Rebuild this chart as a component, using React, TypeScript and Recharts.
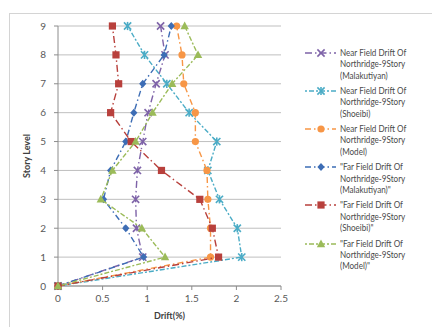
import React from 'react';
import { ScatterChart, Scatter, XAxis, YAxis, CartesianGrid, Label } from 'recharts';

const storyLevels = [0, 1, 2, 3, 4, 5, 6, 7, 8, 9];
const nearMalakutiyan = [0, 0.95, 0.88, 0.87, 0.89, 0.95, 1.01, 1.1, 1.2, 1.15];
const nearShoeibi = [0, 2.06, 2.01, 1.81, 1.68, 1.78, 1.47, 1.22, 0.97, 0.78];
const nearModel = [0, 1.71, 1.71, 1.68, 1.67, 1.54, 1.54, 1.41, 1.39, 1.33];
const farMalakutiyan = [0, 0.96, 0.76, 0.51, 0.59, 0.76, 0.85, 0.95, 1.19, 1.27];
const farShoeibi = [0, 1.8, 1.73, 1.59, 1.16, 0.82, 0.59, 0.68, 0.65, 0.61];
const farModel = [0, 1.2, 0.94, 0.48, 0.61, 0.87, 1.06, 1.28, 1.57, 1.42];
const xTicks = [0, 0.5, 1, 1.5, 2, 2.5];
const yTicks = [0, 1, 2, 3, 4, 5, 6, 7, 8, 9];

const seriesNames = [
  ['Near Field Drift Of', 'Northridge-9Story', '(Malakutiyan)'],
  ['Near Field Drift Of', 'Northridge-9Story', '(Shoeibi)'],
  ['Near Field Drift Of', 'Northridge-9Story', '(Model)'],
  ['"Far Field Drift Of', 'Northridge-9Story', '(Malakutiyan)"'],
  ['"Far Field Drift Of', 'Northridge-9Story', '(Shoeibi)"'],
  ['"Far Field Drift Of', 'Northridge-9Story', '(Model)"'],
];

type MarkerKind = 'x' | 'star' | 'circle' | 'diamond' | 'square' | 'triangle';

const seriesDefs: { values: number[]; color: string; marker: MarkerKind; dash: string }[] = [
  { values: nearMalakutiyan, color: '#7E63A8', marker: 'x', dash: '7 3 1.5 3' },
  { values: nearShoeibi, color: '#4BACC6', marker: 'star', dash: '2 2 5 2' },
  { values: nearModel, color: '#F79646', marker: 'circle', dash: '6 3 1.5 3' },
  { values: farMalakutiyan, color: '#3D6DB5', marker: 'diamond', dash: '6 3 1.5 3' },
  { values: farShoeibi, color: '#B8403C', marker: 'square', dash: '7 3 1.5 3' },
  { values: farModel, color: '#9BBB59', marker: 'triangle', dash: '2 2 5 2' },
];

const Marker = ({ kind, cx, cy, color }: { kind: MarkerKind; cx: number; cy: number; color: string }) => {
  if (cx == null || cy == null) return null;
  const s = 3.6;
  switch (kind) {
    case 'x':
      return (
        <g stroke={color} strokeWidth={1.6}>
          <line x1={cx - s} y1={cy - s} x2={cx + s} y2={cy + s} />
          <line x1={cx - s} y1={cy + s} x2={cx + s} y2={cy - s} />
        </g>
      );
    case 'star':
      return (
        <g stroke={color} strokeWidth={1.6}>
          <line x1={cx - s} y1={cy - s} x2={cx + s} y2={cy + s} />
          <line x1={cx - s} y1={cy + s} x2={cx + s} y2={cy - s} />
          <line x1={cx} y1={cy - s - 0.5} x2={cx} y2={cy + s + 0.5} />
        </g>
      );
    case 'circle':
      return <circle cx={cx} cy={cy} r={3.6} fill={color} />;
    case 'diamond':
      return <path d={`M${cx},${cy - 4} L${cx + 3.6},${cy} L${cx},${cy + 4} L${cx - 3.6},${cy} Z`} fill={color} />;
    case 'square':
      return <rect x={cx - 3.6} y={cy - 3.6} width={7.2} height={7.2} fill={color} />;
    case 'triangle':
      return <path d={`M${cx},${cy - 4.5} L${cx + 4.2},${cy + 3.2} L${cx - 4.2},${cy + 3.2} Z`} fill={color} />;
  }
  return null;
};

const textColor = '#595959';
const font = 'Lato, "Liberation Sans", sans-serif';

export default function App() {
  return (
    <div style={{ position: 'absolute', left: 0, top: 0, width: 432, height: 327, background: '#fff', overflow: 'hidden', fontFamily: font }}>
      <div style={{ position: 'absolute', left: 9, top: 13, width: 430, height: 320, borderTop: '1.5px solid #D4D4D4', borderLeft: '1.5px solid #D4D4D4' }} />
      <ScatterChart width={432} height={327} margin={{ top: 26, right: 151, bottom: 11, left: 28 }} style={{ position: 'absolute', left: 0, top: 0 }}>
        <CartesianGrid horizontal={true} vertical={false} stroke="#BFBFBF" strokeDasharray="" />
        <XAxis
          type="number"
          dataKey="x"
          domain={[0, 2.5]}
          ticks={xTicks}
          height={30}
          stroke="#8C8C8C"
          tickSize={4}
          tickMargin={5}
          tick={{ fill: textColor, fontSize: 10, fontFamily: font }}
          allowDecimals
        >
          <Label value="Drift(%)" position="insideBottom" offset={-3} style={{ fill: '#404040', fontSize: 9, fontWeight: 700, fontFamily: font }} />
        </XAxis>
        <YAxis
          type="number"
          dataKey="y"
          domain={[0, 9]}
          ticks={yTicks}
          width={30}
          stroke="#8C8C8C"
          tickSize={4}
          tickMargin={8}
          tick={{ fill: textColor, fontSize: 10, fontFamily: font }}
        >
          <Label value="Story Level" angle={-90} position="insideLeft" offset={-1} style={{ fill: '#404040', fontSize: 9, fontWeight: 700, fontFamily: font, textAnchor: 'middle' }} />
        </YAxis>
        {seriesDefs.map((s, i) => (
          <Scatter
            key={i}
            name={seriesNames[i].join(' ')}
            data={storyLevels.map((lvl, j) => ({ x: s.values[j], y: lvl }))}
            fill={s.color}
            line={{ stroke: s.color, strokeWidth: 1.4, strokeDasharray: s.dash }}
            lineJointType="linear"
            isAnimationActive={false}
            shape={(p: any) => <Marker kind={s.marker} cx={p.cx} cy={p.cy} color={s.color} />}
          />
        ))}
      </ScatterChart>
      {seriesDefs.map((s, i) => {
        const top = 47 + 38.1 * i;
        return (
          <div key={i} style={{ position: 'absolute', left: 305, top, width: 130 }}>
            <svg width={34} height={12} style={{ position: 'absolute', left: 0, top: 0 }}>
              <line x1={0} y1={6} x2={31} y2={6} stroke={s.color} strokeWidth={1.4} strokeDasharray={s.dash} />
              <Marker kind={s.marker} cx={16} cy={6} color={s.color} />
            </svg>
            <div
              style={{
                position: 'absolute',
                left: 35,
                top: 0,
                fontSize: 9.2,
                lineHeight: '11.3px',
                color: '#4A4A4A',
                whiteSpace: 'nowrap',
                transform: 'scaleX(0.88)',
                transformOrigin: 'left top',
              }}
            >
              {seriesNames[i].map((t, k) => (
                <div key={k}>{t}</div>
              ))}
            </div>
          </div>
        );
      })}
    </div>
  );
}
